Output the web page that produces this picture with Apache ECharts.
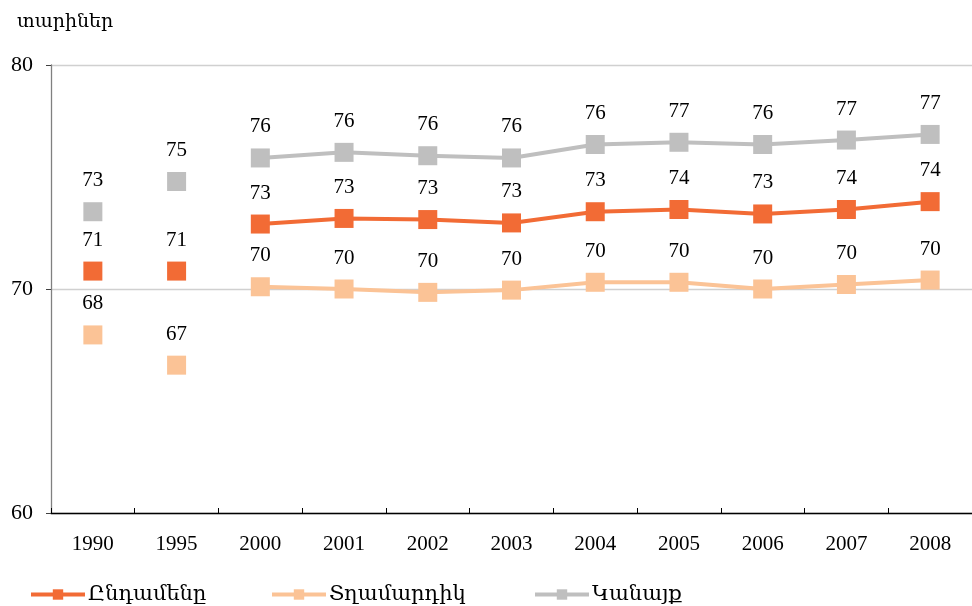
<!DOCTYPE html>
<html><head><meta charset="utf-8">
<script src="https://cdn.jsdelivr.net/npm/echarts@6/dist/echarts.min.js"></script>
<style>html,body{margin:0;padding:0;background:#fff}#c{width:972px;height:606px}</style>
</head><body><div id="c"></div>
<script>
const categories = ['1990','1995','2000','2001','2002','2003','2004','2005','2006','2007','2008'];
const totalVals = [70.8, 70.8, 72.9, 73.15, 73.1, 72.95, 73.45, 73.55, 73.35, 73.55, 73.9];
const menVals   = [67.95, 66.6, 70.1, 70.0, 69.85, 69.95, 70.3, 70.3, 70.0, 70.2, 70.4];
const womenVals = [73.45, 74.8, 75.85, 76.1, 75.95, 75.85, 76.45, 76.55, 76.45, 76.65, 76.9];
const seriesNames = ['Ընդամենը', 'Տղամարդիկ', 'Կանայք'];
const colors = ['#F26B35', '#FBC396', '#BFBFBF'];
const yTicks = { min: 60, max: 80, interval: 10 };
const axisTitle = 'տարիներ';

const FONT = "'Liberation Serif', 'DejaVu Serif', 'Times New Roman', serif";
const chart = echarts.init(document.getElementById('c'));
const allVals = [totalVals, menVals, womenVals];
const splitIdx = 2; // first two years drawn as separate points

const labelCfg = {
  show: true, position: 'top', distance: 11,
  color: '#000', fontFamily: FONT, fontSize: 21,
  formatter: p => Math.round(Array.isArray(p.value) ? p.value[1] : p.value)
};

const series = [];
allVals.forEach((vals, i) => {
  series.push({
    name: seriesNames[i], type: 'line',
    data: categories.map((c, k) => k < splitIdx ? '-' : vals[k]),
    symbol: 'rect', symbolSize: 19,
    itemStyle: { color: colors[i], opacity: 1 },
    lineStyle: { color: colors[i], width: 4 },
    label: labelCfg,
    z: 5 - i
  });
});
allVals.forEach((vals, i) => {
  series.push({
    name: seriesNames[i], type: 'scatter',
    data: categories.map((c, k) => k < splitIdx ? vals[k] : '-'),
    symbol: 'rect', symbolSize: 19,
    itemStyle: { color: colors[i], opacity: 1 },
    label: labelCfg,
    z: 5
  });
});

const legendPos = [24, 265, 528];
const legends = seriesNames.map((n, i) => ({
  data: [n], left: legendPos[i], top: 579,
  itemWidth: 54, itemHeight: 13, itemGap: 6,
  lineStyle: { width: 4 },
  textStyle: { fontFamily: FONT, fontSize: 21, color: '#000', padding: [0, 0, 0, -2] }
}));

chart.setOption({
  animation: false,
  textStyle: { fontFamily: FONT },
  title: { text: axisTitle, left: 12, top: 8, textStyle: { fontFamily: FONT, fontSize: 19, fontWeight: 'normal', color: '#000' } },
  legend: legends,
  grid: { left: 51, right: 0, top: 65, bottom: 93 },
  xAxis: {
    type: 'category', data: categories, boundaryGap: true,
    axisLine: { lineStyle: { color: '#000', width: 1.3 } },
    axisTick: { show: true, inside: true, length: 5, lineStyle: { color: '#000' } },
    axisLabel: { fontFamily: FONT, fontSize: 21, color: '#000', margin: 21 }
  },
  yAxis: {
    type: 'value', min: yTicks.min, max: yTicks.max, interval: yTicks.interval,
    axisLine: { show: true, lineStyle: { color: '#808080', width: 1.3 } },
    axisTick: { show: true, length: 5, lineStyle: { color: '#404040' } },
    splitLine: { lineStyle: { color: '#D0D0D0', width: 1.3 } },
    axisLabel: { fontFamily: FONT, fontSize: 22, color: '#000', margin: 18 }
  },
  series
});
</script></body></html>
